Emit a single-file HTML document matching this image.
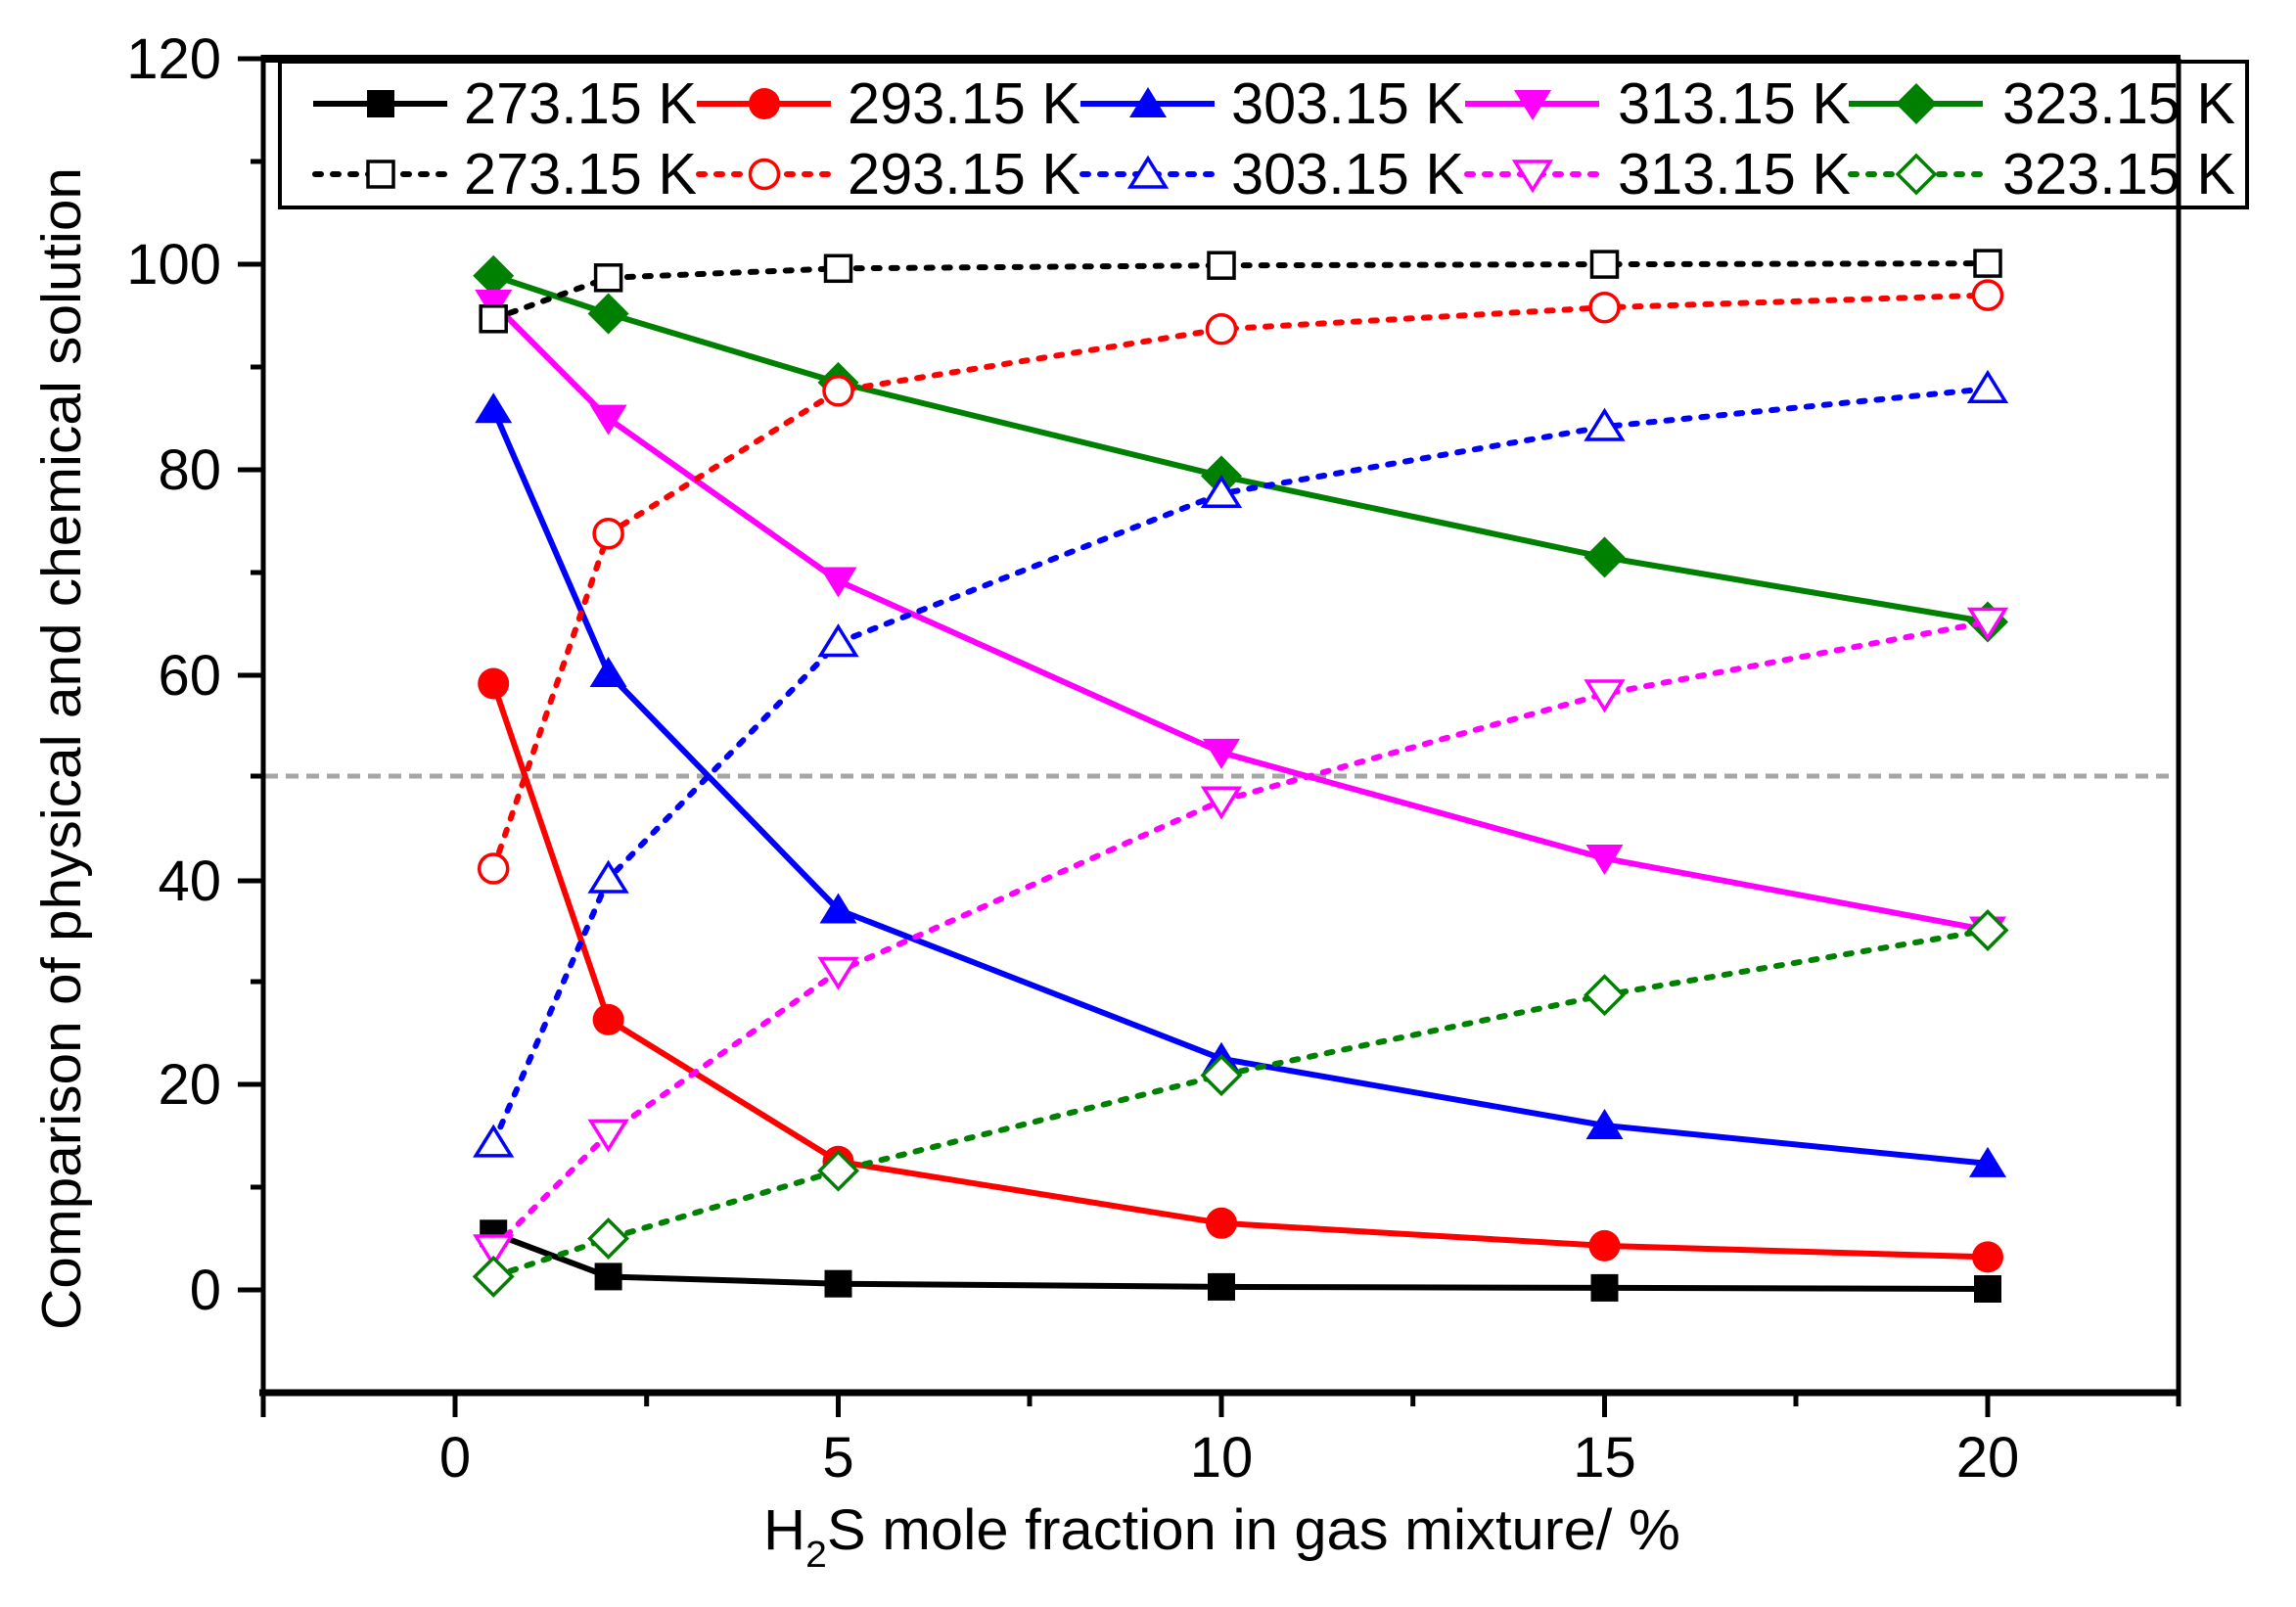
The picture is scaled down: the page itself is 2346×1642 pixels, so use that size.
<!DOCTYPE html>
<html><head><meta charset="utf-8"><style>
html,body{margin:0;padding:0;background:#fff;}
svg{display:block;font-family:"Liberation Sans",Arial,sans-serif;}
</style></head><body>
<svg width="2346" height="1642" viewBox="0 0 2346 1642" xmlns="http://www.w3.org/2000/svg">
<defs>
<marker id="sqF" markerUnits="userSpaceOnUse" markerWidth="40" markerHeight="40" refX="20" refY="20" overflow="visible"><rect x="6" y="6" width="28" height="28" fill="#000"/></marker>
<marker id="ciF" markerUnits="userSpaceOnUse" markerWidth="40" markerHeight="40" refX="20" refY="20" overflow="visible"><circle cx="20" cy="20" r="16" fill="#f00"/></marker>
<marker id="tuF" markerUnits="userSpaceOnUse" markerWidth="40" markerHeight="40" refX="20" refY="20" overflow="visible"><polygon points="20,3 39,34 1,34" fill="#00f"/></marker>
<marker id="tdF" markerUnits="userSpaceOnUse" markerWidth="40" markerHeight="40" refX="20" refY="20" overflow="visible"><polygon points="1,6 39,6 20,37" fill="#f0f"/></marker>
<marker id="diF" markerUnits="userSpaceOnUse" markerWidth="44" markerHeight="44" refX="22" refY="22" overflow="visible"><polygon points="22,1 43,22 22,43 1,22" fill="#008000"/></marker>
<marker id="sqO" markerUnits="userSpaceOnUse" markerWidth="40" markerHeight="40" refX="20" refY="20" overflow="visible"><rect x="7" y="7" width="26" height="26" fill="#fff" stroke="#000" stroke-width="3.5"/></marker>
<marker id="ciO" markerUnits="userSpaceOnUse" markerWidth="40" markerHeight="40" refX="20" refY="20" overflow="visible"><circle cx="20" cy="20" r="14.5" fill="#fff" stroke="#f00" stroke-width="3.5"/></marker>
<marker id="tuO" markerUnits="userSpaceOnUse" markerWidth="40" markerHeight="40" refX="20" refY="20" overflow="visible"><polygon points="20,4 38,33 2,33" fill="#fff" stroke="#00f" stroke-width="3.5"/></marker>
<marker id="tdO" markerUnits="userSpaceOnUse" markerWidth="40" markerHeight="40" refX="20" refY="20" overflow="visible"><polygon points="2,7 38,7 20,36" fill="#fff" stroke="#f0f" stroke-width="3.5"/></marker>
<marker id="diO" markerUnits="userSpaceOnUse" markerWidth="44" markerHeight="44" refX="22" refY="22" overflow="visible"><polygon points="22,3 41,22 22,41 3,22" fill="#fff" stroke="#008000" stroke-width="3.5"/></marker>
</defs>

<line x1="271" y1="793" x2="2226" y2="793" stroke="#a6a6a6" stroke-width="5" stroke-dasharray="13 8"/>

<g fill="none" stroke-width="6" stroke-linejoin="round">
<polyline stroke="#008000" marker-start="url(#diF)" marker-mid="url(#diF)" marker-end="url(#diF)" points="504.2,281.7 621.6,320.5 856.5,390.9 1248,486.4 1639.5,569.4 2031,635.5"/>
<polyline stroke="#f0f" marker-start="url(#tdF)" marker-mid="url(#tdF)" marker-end="url(#tdF)" points="504.2,310 621.6,427.6 856.5,593.5 1248,768.9 1639.5,877 2031,950.5"/>
<polyline stroke="#00f" marker-start="url(#tuF)" marker-mid="url(#tuF)" marker-end="url(#tuF)" points="504.2,418.2 621.6,688 856.5,929.5 1248,1081.8 1639.5,1150 2031,1188.9"/>
<polyline stroke="#f00" marker-start="url(#ciF)" marker-mid="url(#ciF)" marker-end="url(#ciF)" points="504.2,698.5 621.6,1041.9 856.5,1186.8 1248,1249.8 1639.5,1272.9 2031,1284.4"/>
<polyline stroke="#000" marker-start="url(#sqF)" marker-mid="url(#sqF)" marker-end="url(#sqF)" points="504.2,1260.3 621.6,1304.4 856.5,1311.7 1248,1314.9 1639.5,1315.9 2031,1317"/>
</g>
<g fill="none" stroke-width="6" stroke-dasharray="6 12" stroke-linecap="round">
<polyline stroke="#000" marker-start="url(#sqO)" marker-mid="url(#sqO)" marker-end="url(#sqO)" points="504.2,325.8 621.6,283.8 856.5,274.3 1248,271.2 1639.5,270.1 2031,269.1"/>
<polyline stroke="#f00" marker-start="url(#ciO)" marker-mid="url(#ciO)" marker-end="url(#ciO)" points="504.2,887.5 621.6,545.2 856.5,399.3 1248,336.3 1639.5,314.2 2031,301.6"/>
<polyline stroke="#00f" marker-start="url(#tuO)" marker-mid="url(#tuO)" marker-end="url(#tuO)" points="504.2,1167.9 621.6,898 856.5,656.5 1248,504.3 1639.5,436 2031,397.2"/>
<polyline stroke="#f0f" marker-start="url(#tdO)" marker-mid="url(#tdO)" marker-end="url(#tdO)" points="504.2,1276 621.6,1158.4 856.5,992.5 1248,818.2 1639.5,709 2031,635.5"/>
<polyline stroke="#008000" marker-start="url(#diO)" marker-mid="url(#diO)" marker-end="url(#diO)" points="504.2,1304.4 621.6,1265.5 856.5,1196.2 1248,1098.6 1639.5,1016.7 2031,950.5"/>
</g>

<g stroke="#000">
<line x1="271" y1="60" x2="2228" y2="60" stroke-width="8"/>
<line x1="265" y1="1423" x2="2228" y2="1423" stroke-width="7"/>
<line x1="269" y1="56" x2="269" y2="1448" stroke-width="5"/>
<line x1="2226" y1="60" x2="2226" y2="1437" stroke-width="5"/>
<g stroke-width="5">
<line x1="243" y1="60" x2="269" y2="60"/><line x1="243" y1="270" x2="269" y2="270"/><line x1="243" y1="480" x2="269" y2="480"/><line x1="243" y1="690" x2="269" y2="690"/><line x1="243" y1="900" x2="269" y2="900"/><line x1="243" y1="1108" x2="269" y2="1108"/><line x1="243" y1="1318" x2="269" y2="1318"/>
<line x1="256" y1="165" x2="269" y2="165"/><line x1="256" y1="375" x2="269" y2="375"/><line x1="256" y1="585" x2="269" y2="585"/><line x1="256" y1="793" x2="269" y2="793"/><line x1="256" y1="1003" x2="269" y2="1003"/><line x1="256" y1="1213" x2="269" y2="1213"/>
<line x1="465" y1="1423" x2="465" y2="1448"/><line x1="856.5" y1="1423" x2="856.5" y2="1448"/><line x1="1248" y1="1423" x2="1248" y2="1448"/><line x1="1639.5" y1="1423" x2="1639.5" y2="1448"/><line x1="2031" y1="1423" x2="2031" y2="1448"/>
<line x1="660.7" y1="1423" x2="660.7" y2="1437"/><line x1="1052" y1="1423" x2="1052" y2="1437"/><line x1="1443.7" y1="1423" x2="1443.7" y2="1437"/><line x1="1835" y1="1423" x2="1835" y2="1437"/><line x1="2226" y1="1423" x2="2226" y2="1437"/>
</g>
</g>

<g font-size="58" fill="#000" text-anchor="end">
<text x="226" y="80">120</text><text x="226" y="290">100</text><text x="226" y="500">80</text><text x="226" y="710">60</text><text x="226" y="920">40</text><text x="226" y="1128">20</text><text x="226" y="1338">0</text>
</g>
<g font-size="58" fill="#000" text-anchor="middle">
<text x="465" y="1509">0</text><text x="856.5" y="1509">5</text><text x="1248" y="1509">10</text><text x="1639.5" y="1509">15</text><text x="2031" y="1509">20</text>
</g>

<text x="780" y="1583" font-size="58" textLength="937" lengthAdjust="spacingAndGlyphs">H<tspan font-size="38" dy="18">2</tspan><tspan dy="-18">S mole fraction in gas mixture/ %</tspan></text>
<text transform="translate(82,765) rotate(-90)" text-anchor="middle" font-size="57" textLength="1188" lengthAdjust="spacingAndGlyphs">Comparison of physical  and chemical solution</text>

<rect x="286" y="63" width="2010" height="149" fill="none" stroke="#000" stroke-width="4"/>
<g stroke-width="6">
<line x1="320" y1="106" x2="457" y2="106" stroke="#000"/>
<line x1="712" y1="106" x2="849" y2="106" stroke="#f00"/>
<line x1="1104" y1="106" x2="1241" y2="106" stroke="#00f"/>
<line x1="1497" y1="106" x2="1634" y2="106" stroke="#f0f"/>
<line x1="1889" y1="106" x2="2026" y2="106" stroke="#008000"/>
</g>
<g stroke-width="6" stroke-dasharray="6 12" stroke-linecap="round">
<line x1="322" y1="178" x2="457" y2="178" stroke="#000"/>
<line x1="714" y1="178" x2="849" y2="178" stroke="#f00"/>
<line x1="1106" y1="178" x2="1241" y2="178" stroke="#00f"/>
<line x1="1499" y1="178" x2="1634" y2="178" stroke="#f0f"/>
<line x1="1891" y1="178" x2="2026" y2="178" stroke="#008000"/>
</g>
<g stroke="none">
<line x1="389" y1="106" x2="389" y2="106" marker-start="url(#sqF)"/>
<line x1="781" y1="106" x2="781" y2="106" marker-start="url(#ciF)"/>
<line x1="1173" y1="106" x2="1173" y2="106" marker-start="url(#tuF)"/>
<line x1="1566" y1="106" x2="1566" y2="106" marker-start="url(#tdF)"/>
<line x1="1958" y1="106" x2="1958" y2="106" marker-start="url(#diF)"/>
<line x1="389" y1="178" x2="389" y2="178" marker-start="url(#sqO)"/>
<line x1="781" y1="178" x2="781" y2="178" marker-start="url(#ciO)"/>
<line x1="1173" y1="178" x2="1173" y2="178" marker-start="url(#tuO)"/>
<line x1="1566" y1="178" x2="1566" y2="178" marker-start="url(#tdO)"/>
<line x1="1958" y1="178" x2="1958" y2="178" marker-start="url(#diO)"/>
</g>
<g font-size="59" fill="#000">
<text x="474" y="126" textLength="238" lengthAdjust="spacingAndGlyphs">273.15 K</text>
<text x="866" y="126" textLength="238" lengthAdjust="spacingAndGlyphs">293.15 K</text>
<text x="1258" y="126" textLength="238" lengthAdjust="spacingAndGlyphs">303.15 K</text>
<text x="1653" y="126" textLength="238" lengthAdjust="spacingAndGlyphs">313.15 K</text>
<text x="2046" y="126" textLength="238" lengthAdjust="spacingAndGlyphs">323.15 K</text>
<text x="474" y="198" textLength="238" lengthAdjust="spacingAndGlyphs">273.15 K</text>
<text x="866" y="198" textLength="238" lengthAdjust="spacingAndGlyphs">293.15 K</text>
<text x="1258" y="198" textLength="238" lengthAdjust="spacingAndGlyphs">303.15 K</text>
<text x="1653" y="198" textLength="238" lengthAdjust="spacingAndGlyphs">313.15 K</text>
<text x="2046" y="198" textLength="238" lengthAdjust="spacingAndGlyphs">323.15 K</text>
</g>
</svg>
</body></html>
